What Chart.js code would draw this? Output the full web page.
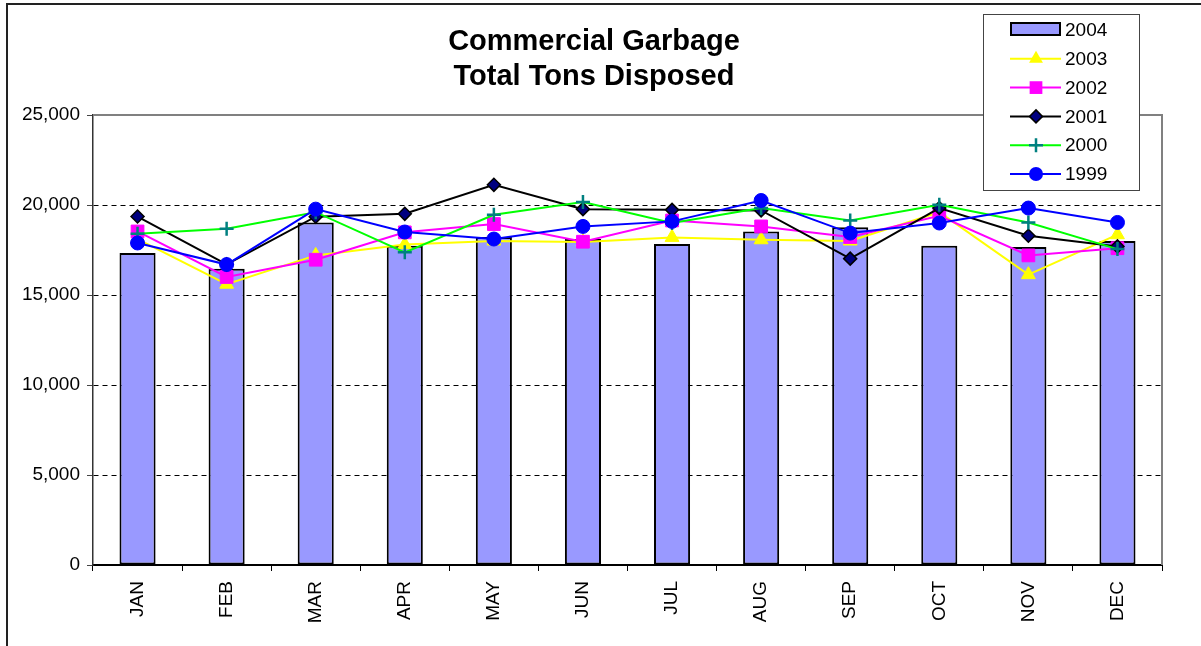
<!DOCTYPE html>
<html>
<head>
<meta charset="utf-8">
<script src="https://cdn.jsdelivr.net/npm/chart.js@4.4.1/dist/chart.umd.min.js"></script>
<style>
  body { margin: 0; background: #fff; }
  #wrap { width: 1201px; height: 646px; }
</style>
</head>
<body>
<div id="wrap"><canvas id="myChart" width="1201" height="646"></canvas></div>
<script>
const months = ["JAN", "FEB", "MAR", "APR", "MAY", "JUN", "JUL", "AUG", "SEP", "OCT", "NOV", "DEC"];
const tons2004 = [17330, 16460, 19030, 17740, 18220, 18110, 17830, 18530, 18770, 17740, 17670, 18000];
const tons2003 = [18100, 15600, 17200, 17800, 18000, 17950, 18200, 18070, 18000, 19600, 16130, 18350];
const tons2002 = [18530, 16000, 16960, 18480, 18940, 17960, 19140, 18810, 18220, 19400, 17200, 17600];
const tons2001 = [19360, 16700, 19350, 19510, 21120, 19770, 19730, 19700, 17020, 19830, 18290, 17700];
const tons2000 = [18400, 18680, 19600, 17370, 19460, 20160, 19000, 19830, 19140, 20010, 19030, 17550];
const tons1999 = [17890, 16690, 19770, 18500, 18110, 18810, 19090, 20250, 18440, 19000, 19830, 19030];
const yTicks = [0, 5000, 10000, 15000, 20000, 25000];
const titleLines = ["Commercial Garbage", "Total Tons Disposed"];

const FONT = "'Liberation Sans', Arial, sans-serif";

// draws a legend marker the same way the series markers look
function drawMarker(ctx, ds, x, y) {
    ctx.save();
    ctx.fillStyle = ds.pointBackgroundColor;
    ctx.strokeStyle = ds.pointBorderColor;
    ctx.lineWidth = ds.pointBorderWidth;
    const r = ds.pointRadius;
    ctx.beginPath();
    if (ds.pointStyle === "circle") {
        ctx.arc(x, y, r, 0, Math.PI * 2);
        ctx.fill();
    } else if (ds.pointStyle === "triangle") {
        const h = r * 1.5, w = r * Math.sin(Math.PI / 3);
        ctx.moveTo(x, y - r);
        ctx.lineTo(x + w, y - r + h);
        ctx.lineTo(x - w, y - r + h);
        ctx.closePath();
        ctx.fill();
    } else if (ds.pointStyle === "rect") {
        const s = r * Math.SQRT1_2;
        ctx.rect(x - s, y - s, 2 * s, 2 * s);
        ctx.fill();
    } else if (ds.pointStyle === "rectRot") {
        ctx.moveTo(x, y - r);
        ctx.lineTo(x + r, y);
        ctx.lineTo(x, y + r);
        ctx.lineTo(x - r, y);
        ctx.closePath();
        ctx.fill();
        ctx.stroke();
    } else if (ds.pointStyle === "cross") {
        ctx.moveTo(x - r, y);
        ctx.lineTo(x + r, y);
        ctx.moveTo(x, y - r);
        ctx.lineTo(x, y + r);
        ctx.stroke();
    }
    ctx.restore();
}

const framePlugin = {
    id: "frame",
    beforeDraw(chart) {
        const ctx = chart.ctx;
        ctx.save();
        ctx.fillStyle = "#fff";
        ctx.fillRect(0, 0, chart.width, chart.height);
        ctx.strokeStyle = "#222";
        ctx.lineWidth = 2;
        ctx.strokeRect(7, 4, chart.width + 20, chart.height + 20);
        // title
        ctx.fillStyle = "#000";
        ctx.font = "bold 29px " + FONT;
        ctx.textAlign = "center";
        ctx.textBaseline = "middle";
        titleLines.forEach((t, i) => ctx.fillText(t, 594, 41.5 + i * 35.8));
        ctx.restore();
    },
    beforeDatasetsDraw(chart) {
        const ctx = chart.ctx;
        const a = chart.chartArea;
        ctx.save();
        ctx.strokeStyle = "#808080";
        ctx.lineWidth = 2;
        ctx.beginPath();
        ctx.moveTo(a.left, a.top);
        ctx.lineTo(a.right, a.top);
        ctx.lineTo(a.right, a.bottom);
        ctx.stroke();
        ctx.restore();
    },
    afterDraw(chart) {
        const ctx = chart.ctx;
        ctx.save();
        ctx.fillStyle = "#fff";
        ctx.fillRect(983, 14, 156, 176);
        ctx.strokeStyle = "#444";
        ctx.lineWidth = 1;
        ctx.strokeRect(983.5, 14.5, 156, 176);
        ctx.font = "19px " + FONT;
        ctx.textBaseline = "middle";
        ctx.textAlign = "left";
        chart.data.datasets.forEach((ds, i) => {
            const y = 30 + i * 28.8;
            if (ds.type === "bar") {
                ctx.fillStyle = ds.backgroundColor;
                ctx.fillRect(1011, y - 7, 49, 12);
                ctx.strokeStyle = "#000";
                ctx.lineWidth = 2;
                ctx.strokeRect(1011, y - 7, 49, 12);
            } else {
                ctx.strokeStyle = ds.borderColor;
                ctx.lineWidth = 2;
                ctx.beginPath();
                ctx.moveTo(1010, y);
                ctx.lineTo(1061, y);
                ctx.stroke();
                drawMarker(ctx, ds, 1036, y);
            }
            ctx.fillStyle = "#000";
            ctx.fillText(ds.label, 1065, y + 1);
        });
        ctx.restore();
    }
};

function lineSeries(label, data, color, style, radius, fill, border, bw, order) {
    return {
        type: "line",
        label: label,
        data: data,
        borderColor: color,
        borderWidth: 2,
        pointStyle: style,
        pointRadius: radius,
        pointBackgroundColor: fill,
        pointBorderColor: border,
        pointBorderWidth: bw,
        tension: 0,
        fill: false,
        order: order
    };
}

const ctx = document.getElementById("myChart").getContext("2d");
const myChart = new Chart(ctx, {
    data: {
        labels: months,
        datasets: [
            {
                type: "bar",
                label: "2004",
                data: tons2004,
                backgroundColor: "#9999FF",
                borderColor: "#000",
                borderWidth: 2,
                borderSkipped: false,
                barPercentage: 0.405,
                categoryPercentage: 1,
                order: 10
            },
            lineSeries("2003", tons2003, "#FFFF00", "triangle", 8, "#FFFF00", "#FFFF00", 1, 5),
            lineSeries("2002", tons2002, "#FF00FF", "rect", 9, "#FF00FF", "#FF00FF", 1, 4),
            lineSeries("2001", tons2001, "#000000", "rectRot", 6.5, "#000080", "#000000", 1.5, 3),
            lineSeries("2000", tons2000, "#00FF00", "cross", 7, "#008080", "#008080", 2.5, 2),
            lineSeries("1999", tons1999, "#0000FF", "circle", 7, "#0000FF", "#0000FF", 1, 1)
        ]
    },
    options: {
        responsive: false,
        animation: false,
        devicePixelRatio: 1,
        layout: { padding: { left: 0, right: 39, top: 115, bottom: 0 } },
        plugins: {
            legend: { display: false },
            tooltip: { enabled: false },
            title: { display: false }
        },
        scales: {
            x: {
                afterFit: (scale) => { scale.height = 81; },
                grid: {
                    display: true,
                    drawOnChartArea: false,
                    drawTicks: true,
                    tickLength: 6,
                    color: "#000",
                    offset: true
                },
                border: { display: true, color: "#000", width: 2 },
                ticks: {
                    color: "#000",
                    font: { family: FONT, size: 19 },
                    minRotation: 90,
                    maxRotation: 90,
                    padding: 10
                }
            },
            y: {
                min: 0,
                max: 25000,
                afterFit: (scale) => { scale.width = 93; },
                afterBuildTicks: (scale) => { scale.ticks = yTicks.map(v => ({ value: v })); },
                grid: {
                    color: (c) => (c.tick && (c.tick.value === 0 || c.tick.value === 25000)) ? "rgba(0,0,0,0)" : "#000",
                    tickColor: "#444",
                    tickLength: 6,
                    tickBorderDash: [10, 0],
                    lineWidth: 1
                },
                border: { display: true, color: "#333", width: 1.5, dash: [5, 4] },
                ticks: {
                    color: "#000",
                    font: { family: FONT, size: 19 },
                    padding: 7,
                    callback: (v) => v.toLocaleString("en-US")
                }
            }
        }
    },
    plugins: [framePlugin]
});
</script>
</body>
</html>
